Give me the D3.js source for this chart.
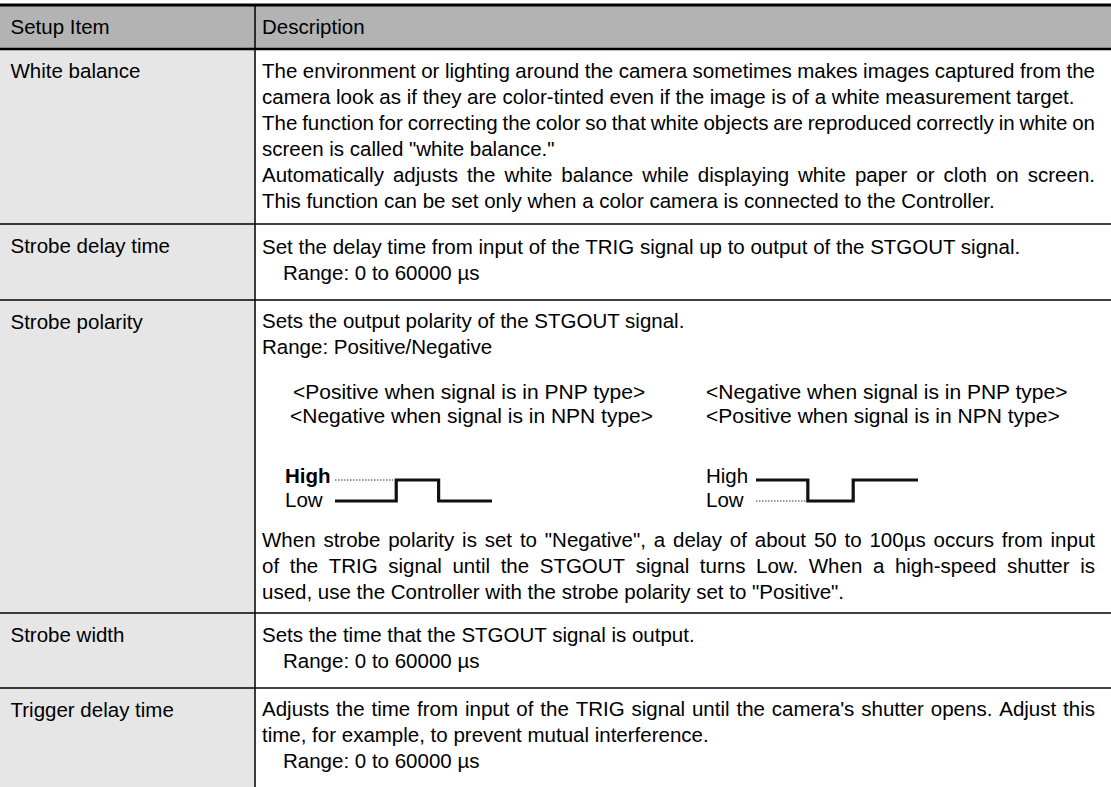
<!DOCTYPE html>
<html><head><meta charset="utf-8">
<script src="https://cdn.jsdelivr.net/npm/d3@7"></script>
<style>
body{margin:0;background:#fff}
svg text{font-family:"Liberation Sans",Arial,sans-serif;fill:#000}
</style></head><body><svg id="c" width="1111" height="787"></svg>
<script>
// ---------- data ----------
const headers = ["Setup Item", "Description"];
const items = ["White balance", "Strobe delay time", "Strobe polarity", "Strobe width", "Trigger delay time"];
// line kinds: j = justified, p = plain, r = indented range line
const descWhiteBalance = [
  ["j", "The environment or lighting around the camera sometimes makes images captured from the"],
  ["p", "camera look as if they are color-tinted even if the image is of a white measurement target."],
  ["j", "The function for correcting the color so that white objects are reproduced correctly in white on"],
  ["p", "screen is called \"white balance.\""],
  ["j", "Automatically adjusts the white balance while displaying white paper or cloth on screen."],
  ["p", "This function can be set only when a color camera is connected to the Controller."]
];
const descStrobeDelay = [
  ["p", "Set the delay time from input of the TRIG signal up to output of the STGOUT signal."],
  ["r", "Range: 0 to 60000 \u00b5s"]
];
const descPolarityTop = [
  ["p", "Sets the output polarity of the STGOUT signal."],
  ["p", "Range: Positive/Negative"]
];
const descPolarityBottom = [
  ["j", "When strobe polarity is set to \"Negative\", a delay of about 50 to 100\u00b5s occurs from input"],
  ["j", "of the TRIG signal until the STGOUT signal turns Low. When a high-speed shutter is"],
  ["p", "used, use the Controller with the strobe polarity set to \"Positive\"."]
];
const descStrobeWidth = [
  ["p", "Sets the time that the STGOUT signal is output."],
  ["r", "Range: 0 to 60000 \u00b5s"]
];
const descTriggerDelay = [
  ["j", "Adjusts the time from input of the TRIG signal until the camera's shutter opens. Adjust this"],
  ["p", "time, for example, to prevent mutual interference."],
  ["r", "Range: 0 to 60000 \u00b5s"]
];
const polarityLeft = ["<Positive when signal is in PNP type>", "<Negative when signal is in NPN type>"];
const polarityRight = ["<Negative when signal is in PNP type>", "<Positive when signal is in NPN type>"];
const levelLabels = ["High", "Low"];
// pulse shapes: [time (0..1), level (0 = Low, 1 = High)]
const pulseLeft = [[0, 0], [0.39, 0], [0.39, 1], [0.66, 1], [0.66, 0], [1, 0]];
const pulseRight = [[0, 1], [0.32, 1], [0.32, 0], [0.6, 0], [0.6, 1], [1, 1]];
const dottedLeft = [[0, 1], [0.37, 1]];
const dottedRight = [[0, 0], [0.31, 0]];

// ---------- layout ----------
const W = 1111, H = 787;
const svg = d3.select("#c");
const colX = 255;
const fsR = 20.5, fsL = 20.5, fsPol = 21;
const xL = 10.5, xR = 262, xIndent = 283, xRightEdge = 1095;
const rowTops = [49, 224, 300, 613, 688];
const lineGap = 26;
const base = 7.3; // center -> baseline

// backgrounds
svg.append("rect").attr("x", 0).attr("y", 5).attr("width", W).attr("height", 44).attr("fill", "#b3b3b3");
svg.append("rect").attr("x", 0).attr("y", 49).attr("width", colX).attr("height", H - 49).attr("fill", "#e6e6e6");

// measuring helper
const meas = svg.append("text").attr("x", -1000).attr("y", -1000).style("font-size", fsR + "px");
function width(t) { meas.text(t); return meas.node().getComputedTextLength(); }

function drawLine(kind, text, cy) {
  const y = cy + base;
  if (kind === "j") {
    const words = text.split(" ");
    const ws = words.map(width);
    const total = d3.sum(ws);
    const gap = (xRightEdge - xR - total) / (words.length - 1);
    const t = svg.append("text").attr("y", y).style("font-size", fsR + "px");
    let x = xR;
    words.forEach((w, i) => {
      t.append("tspan").attr("x", x).text(w);
      x += ws[i] + gap;
    });
  } else {
    svg.append("text").attr("x", kind === "r" ? xIndent : xR).attr("y", y)
      .style("font-size", fsR + "px").text(text);
  }
}
function drawBlock(lines, cy0) {
  lines.forEach((l, i) => drawLine(l[0], l[1], cy0 + i * lineGap));
}

// header text
svg.append("text").attr("x", xL).attr("y", 27 + base).style("font-size", fsL + "px").text(headers[0]);
svg.append("text").attr("x", xR).attr("y", 27 + base).style("font-size", fsR + "px").text(headers[1]);

// item names
items.forEach((it, i) => {
  svg.append("text").attr("x", xL).attr("y", rowTops[i] + 22 + base).style("font-size", fsL + "px").text(it);
});

// descriptions
drawBlock(descWhiteBalance, rowTops[0] + 22);
drawBlock(descStrobeDelay, rowTops[1] + 23);
drawBlock(descPolarityTop, rowTops[2] + 21);
drawBlock(descPolarityBottom, 540);
drawBlock(descStrobeWidth, rowTops[3] + 22);
drawBlock(descTriggerDelay, rowTops[4] + 21);

// polarity labels
polarityLeft.forEach((t, i) => svg.append("text").attr("x", 293 - (i ? 3 : 0)).attr("y", 392 + i * 24 + base).style("font-size", fsPol + "px").text(t));
polarityRight.forEach((t, i) => svg.append("text").attr("x", 706).attr("y", 392 + i * 24 + base).style("font-size", fsPol + "px").text(t));

// waveforms
function wave(x0, x1, pulse, dotted, boldHigh, labelX) {
  const xs = d3.scaleLinear().domain([0, 1]).range([x0, x1]);
  const ys = d3.scaleLinear().domain([0, 1]).range([501, 480]);
  const line = d3.line().x(d => xs(d[0])).y(d => ys(d[1]));
  svg.append("path").attr("d", line(dotted)).attr("fill", "none").attr("stroke", "#333")
    .attr("stroke-width", 1).attr("stroke-dasharray", "1.5,1.5");
  svg.append("path").attr("d", line(pulse)).attr("fill", "none").attr("stroke", "#111")
    .attr("stroke-width", 3.2).attr("stroke-linejoin", "miter");
  svg.append("text").attr("x", labelX).attr("y", 476 + base).style("font-size", "20.5px")
    .style("font-weight", boldHigh ? "bold" : "normal").text(levelLabels[0]);
  svg.append("text").attr("x", labelX).attr("y", 500 + base).style("font-size", "20.5px").text(levelLabels[1]);
}
wave(335, 492, pulseLeft, dottedLeft, true, 285);
wave(756, 918, pulseRight, dottedRight, false, 706);

// grid lines
rowTops.slice(1).forEach(y => {
  svg.append("line").attr("x1", 0).attr("x2", W).attr("y1", y).attr("y2", y).attr("stroke", "#000").attr("stroke-width", 1.3);
});
svg.append("line").attr("x1", 0).attr("x2", W).attr("y1", 5).attr("y2", 5).attr("stroke", "#000").attr("stroke-width", 3);
svg.append("line").attr("x1", 0).attr("x2", W).attr("y1", 49).attr("y2", 49).attr("stroke", "#000").attr("stroke-width", 2.6);
svg.append("line").attr("x1", colX).attr("x2", colX).attr("y1", 5).attr("y2", H).attr("stroke", "#000").attr("stroke-width", 1.5);
meas.remove();
</script></body></html>
